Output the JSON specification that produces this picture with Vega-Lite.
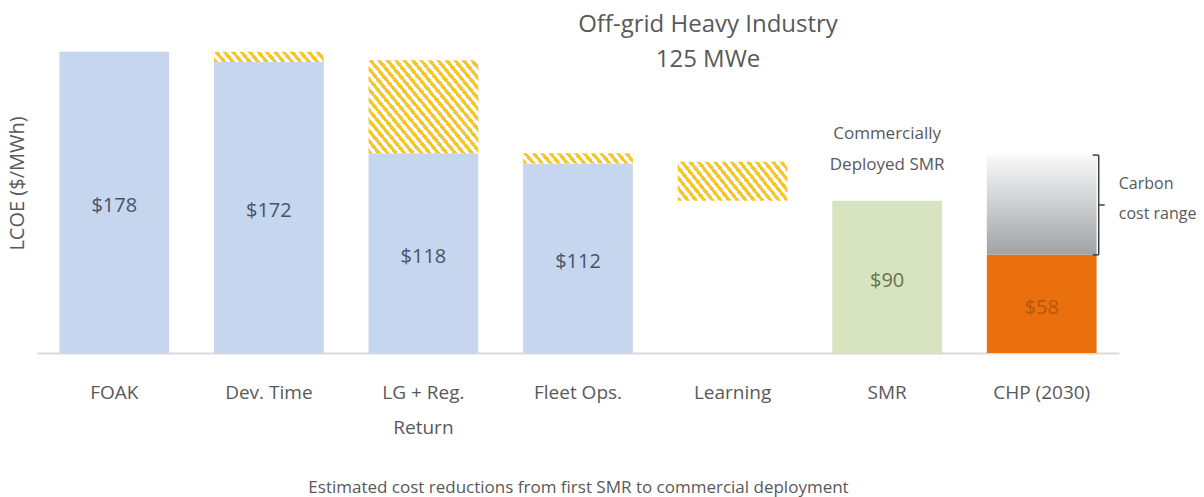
{
  "$schema": "https://vega.github.io/schema/vega-lite/v6.json",
  "width": 1082,
  "height": 313,
  "autosize": "none",
  "padding": {"left": 37, "top": 40, "right": 85, "bottom": 144},
  "background": "#ffffff",
  "config": {
    "font": "Open Sans",
    "view": {"stroke": null},
    "axisY": {
      "labels": false,
      "ticks": false,
      "domain": false,
      "grid": false,
      "titleFontSize": 20,
      "titleFontWeight": "normal",
      "titleColor": "#595959",
      "titleX": -20,
      "titleY": 143,
      "titleAngle": -90,
      "titleAlign": "center",
      "titleBaseline": "middle"
    }
  },
  "title": {
    "text": ["Off-grid Heavy Industry", "125 MWe"],
    "fontSize": 24,
    "fontWeight": "normal",
    "color": "#595959",
    "lineHeight": 35,
    "anchor": "middle",
    "baseline": "bottom",
    "offset": 0,
    "dx": 130,
    "dy": 56
  },
  "datasets": {
    "bars": [
      {"cat": "FOAK", "kind": "FOAK path", "base": 0, "value": 178},
      {"cat": "Dev. Time", "kind": "FOAK path", "base": 0, "value": 172},
      {"cat": "LG + Reg. Return", "kind": "FOAK path", "base": 0, "value": 118},
      {"cat": "Fleet Ops.", "kind": "FOAK path", "base": 0, "value": 112},
      {"cat": "SMR", "kind": "SMR", "base": 0, "value": 90},
      {"cat": "CHP (2030)", "kind": "CHP", "base": 0, "value": 58}
    ],
    "hatch": [
      {"cat": "Dev. Time", "lo": 172, "hi": 178},
      {"cat": "LG + Reg. Return", "lo": 118, "hi": 173},
      {"cat": "Fleet Ops.", "lo": 112, "hi": 118},
      {"cat": "Learning", "lo": 90, "hi": 113}
    ],
    "carbon": [
      {"cat": "CHP (2030)", "lo": 58, "hi": 117}
    ]
  },
  "encoding": {
    "x": {
      "field": "cat",
      "type": "nominal",
      "scale": {
        "domain": ["FOAK", "Dev. Time", "LG + Reg. Return", "Fleet Ops.", "Learning", "SMR", "CHP (2030)"],
        "paddingInner": 0.29,
        "paddingOuter": 0.145
      },
      "axis": {
        "title": "Estimated cost reductions from first SMR to commercial deployment",
        "titleFontSize": 17,
        "titleFontWeight": "normal",
        "titleColor": "#595959",
        "titleY": 134,
        "titleBaseline": "middle",
        "labelFontSize": 19,
        "labelColor": "#595959",
        "labelPadding": 30,
        "labelAngle": 0,
        "labelLineHeight": 35,
        "labelExpr": "datum.value == 'LG + Reg. Return' ? ['LG + Reg.', 'Return'] : datum.value",
        "ticks": false,
        "grid": false,
        "domainColor": "#d9d9d9",
        "domainWidth": 2
      }
    }
  },
  "layer": [
    {
      "data": {"name": "bars"},
      "mark": {"type": "bar"},
      "encoding": {
        "y": {"field": "value", "type": "quantitative", "title": "LCOE ($/MWh)", "scale": {"domain": [0, 185], "nice": false}},
        "color": {
          "field": "kind",
          "type": "nominal",
          "scale": {"domain": ["FOAK path", "SMR", "CHP"], "range": ["#c6d6ee", "#d8e4bf", "#e9700c"]},
          "legend": null
        }
      }
    },
    {
      "data": {"name": "carbon"},
      "mark": {
        "type": "bar",
        "fill": {
          "gradient": "linear",
          "x1": 0, "y1": 0, "x2": 0, "y2": 1,
          "stops": [
            {"offset": 0, "color": "#f9f9f9"},
            {"offset": 1, "color": "#9fa3a6"}
          ]
        }
      },
      "encoding": {
        "y": {"field": "hi", "type": "quantitative", "title": "LCOE ($/MWh)", "scale": {"domain": [0, 185], "nice": false}},
        "y2": {"field": "lo"}
      }
    },
    {
      "data": {"name": "hatch"},
      "transform": [{"filter": "datum.cat == 'Dev. Time' || datum.cat == 'Fleet Ops.'"}],
      "mark": {
        "type": "bar",
        "fill": {
          "gradient": "linear",
          "x1": 0, "y1": 1, "x2": 1.07, "y2": 0.918,
          "stops": [
            {"offset": 0, "color": "#f6c62a"}, {"offset": 0.0357, "color": "#f6c62a"}, {"offset": 0.0357, "color": "#ffffff"}, {"offset": 0.0714, "color": "#ffffff"},
            {"offset": 0.0714, "color": "#f6c62a"}, {"offset": 0.1071, "color": "#f6c62a"}, {"offset": 0.1071, "color": "#ffffff"}, {"offset": 0.1429, "color": "#ffffff"},
            {"offset": 0.1429, "color": "#f6c62a"}, {"offset": 0.1786, "color": "#f6c62a"}, {"offset": 0.1786, "color": "#ffffff"}, {"offset": 0.2143, "color": "#ffffff"},
            {"offset": 0.2143, "color": "#f6c62a"}, {"offset": 0.25, "color": "#f6c62a"}, {"offset": 0.25, "color": "#ffffff"}, {"offset": 0.2857, "color": "#ffffff"},
            {"offset": 0.2857, "color": "#f6c62a"}, {"offset": 0.3214, "color": "#f6c62a"}, {"offset": 0.3214, "color": "#ffffff"}, {"offset": 0.3571, "color": "#ffffff"},
            {"offset": 0.3571, "color": "#f6c62a"}, {"offset": 0.3929, "color": "#f6c62a"}, {"offset": 0.3929, "color": "#ffffff"}, {"offset": 0.4286, "color": "#ffffff"},
            {"offset": 0.4286, "color": "#f6c62a"}, {"offset": 0.4643, "color": "#f6c62a"}, {"offset": 0.4643, "color": "#ffffff"}, {"offset": 0.5, "color": "#ffffff"},
            {"offset": 0.5, "color": "#f6c62a"}, {"offset": 0.5357, "color": "#f6c62a"}, {"offset": 0.5357, "color": "#ffffff"}, {"offset": 0.5714, "color": "#ffffff"},
            {"offset": 0.5714, "color": "#f6c62a"}, {"offset": 0.6071, "color": "#f6c62a"}, {"offset": 0.6071, "color": "#ffffff"}, {"offset": 0.6429, "color": "#ffffff"},
            {"offset": 0.6429, "color": "#f6c62a"}, {"offset": 0.6786, "color": "#f6c62a"}, {"offset": 0.6786, "color": "#ffffff"}, {"offset": 0.7143, "color": "#ffffff"},
            {"offset": 0.7143, "color": "#f6c62a"}, {"offset": 0.75, "color": "#f6c62a"}, {"offset": 0.75, "color": "#ffffff"}, {"offset": 0.7857, "color": "#ffffff"},
            {"offset": 0.7857, "color": "#f6c62a"}, {"offset": 0.8214, "color": "#f6c62a"}, {"offset": 0.8214, "color": "#ffffff"}, {"offset": 0.8571, "color": "#ffffff"},
            {"offset": 0.8571, "color": "#f6c62a"}, {"offset": 0.8929, "color": "#f6c62a"}, {"offset": 0.8929, "color": "#ffffff"}, {"offset": 0.9286, "color": "#ffffff"},
            {"offset": 0.9286, "color": "#f6c62a"}, {"offset": 0.9643, "color": "#f6c62a"}, {"offset": 0.9643, "color": "#ffffff"}, {"offset": 1, "color": "#ffffff"}
          ]
        }
      },
      "encoding": {
        "y": {"field": "hi", "type": "quantitative", "title": "LCOE ($/MWh)", "scale": {"domain": [0, 185], "nice": false}},
        "y2": {"field": "lo"}
      }
    },
    {
      "data": {"name": "hatch"},
      "transform": [{"filter": "datum.cat == 'LG + Reg. Return'"}],
      "mark": {
        "type": "bar",
        "fill": {
          "gradient": "linear",
          "x1": 0, "y1": 1, "x2": 1.143, "y2": 0.206,
          "stops": [
            {"offset": 0, "color": "#f6c62a"}, {"offset": 0.0227, "color": "#f6c62a"}, {"offset": 0.0227, "color": "#ffffff"}, {"offset": 0.0455, "color": "#ffffff"},
            {"offset": 0.0455, "color": "#f6c62a"}, {"offset": 0.0682, "color": "#f6c62a"}, {"offset": 0.0682, "color": "#ffffff"}, {"offset": 0.0909, "color": "#ffffff"},
            {"offset": 0.0909, "color": "#f6c62a"}, {"offset": 0.1136, "color": "#f6c62a"}, {"offset": 0.1136, "color": "#ffffff"}, {"offset": 0.1364, "color": "#ffffff"},
            {"offset": 0.1364, "color": "#f6c62a"}, {"offset": 0.1591, "color": "#f6c62a"}, {"offset": 0.1591, "color": "#ffffff"}, {"offset": 0.1818, "color": "#ffffff"},
            {"offset": 0.1818, "color": "#f6c62a"}, {"offset": 0.2045, "color": "#f6c62a"}, {"offset": 0.2045, "color": "#ffffff"}, {"offset": 0.2273, "color": "#ffffff"},
            {"offset": 0.2273, "color": "#f6c62a"}, {"offset": 0.25, "color": "#f6c62a"}, {"offset": 0.25, "color": "#ffffff"}, {"offset": 0.2727, "color": "#ffffff"},
            {"offset": 0.2727, "color": "#f6c62a"}, {"offset": 0.2955, "color": "#f6c62a"}, {"offset": 0.2955, "color": "#ffffff"}, {"offset": 0.3182, "color": "#ffffff"},
            {"offset": 0.3182, "color": "#f6c62a"}, {"offset": 0.3409, "color": "#f6c62a"}, {"offset": 0.3409, "color": "#ffffff"}, {"offset": 0.3636, "color": "#ffffff"},
            {"offset": 0.3636, "color": "#f6c62a"}, {"offset": 0.3864, "color": "#f6c62a"}, {"offset": 0.3864, "color": "#ffffff"}, {"offset": 0.4091, "color": "#ffffff"},
            {"offset": 0.4091, "color": "#f6c62a"}, {"offset": 0.4318, "color": "#f6c62a"}, {"offset": 0.4318, "color": "#ffffff"}, {"offset": 0.4545, "color": "#ffffff"},
            {"offset": 0.4545, "color": "#f6c62a"}, {"offset": 0.4773, "color": "#f6c62a"}, {"offset": 0.4773, "color": "#ffffff"}, {"offset": 0.5, "color": "#ffffff"},
            {"offset": 0.5, "color": "#f6c62a"}, {"offset": 0.5227, "color": "#f6c62a"}, {"offset": 0.5227, "color": "#ffffff"}, {"offset": 0.5455, "color": "#ffffff"},
            {"offset": 0.5455, "color": "#f6c62a"}, {"offset": 0.5682, "color": "#f6c62a"}, {"offset": 0.5682, "color": "#ffffff"}, {"offset": 0.5909, "color": "#ffffff"},
            {"offset": 0.5909, "color": "#f6c62a"}, {"offset": 0.6136, "color": "#f6c62a"}, {"offset": 0.6136, "color": "#ffffff"}, {"offset": 0.6364, "color": "#ffffff"},
            {"offset": 0.6364, "color": "#f6c62a"}, {"offset": 0.6591, "color": "#f6c62a"}, {"offset": 0.6591, "color": "#ffffff"}, {"offset": 0.6818, "color": "#ffffff"},
            {"offset": 0.6818, "color": "#f6c62a"}, {"offset": 0.7045, "color": "#f6c62a"}, {"offset": 0.7045, "color": "#ffffff"}, {"offset": 0.7273, "color": "#ffffff"},
            {"offset": 0.7273, "color": "#f6c62a"}, {"offset": 0.75, "color": "#f6c62a"}, {"offset": 0.75, "color": "#ffffff"}, {"offset": 0.7727, "color": "#ffffff"},
            {"offset": 0.7727, "color": "#f6c62a"}, {"offset": 0.7955, "color": "#f6c62a"}, {"offset": 0.7955, "color": "#ffffff"}, {"offset": 0.8182, "color": "#ffffff"},
            {"offset": 0.8182, "color": "#f6c62a"}, {"offset": 0.8409, "color": "#f6c62a"}, {"offset": 0.8409, "color": "#ffffff"}, {"offset": 0.8636, "color": "#ffffff"},
            {"offset": 0.8636, "color": "#f6c62a"}, {"offset": 0.8864, "color": "#f6c62a"}, {"offset": 0.8864, "color": "#ffffff"}, {"offset": 0.9091, "color": "#ffffff"},
            {"offset": 0.9091, "color": "#f6c62a"}, {"offset": 0.9318, "color": "#f6c62a"}, {"offset": 0.9318, "color": "#ffffff"}, {"offset": 0.9545, "color": "#ffffff"},
            {"offset": 0.9545, "color": "#f6c62a"}, {"offset": 0.9773, "color": "#f6c62a"}, {"offset": 0.9773, "color": "#ffffff"}, {"offset": 1, "color": "#ffffff"}
          ]
        }
      },
      "encoding": {
        "y": {"field": "hi", "type": "quantitative", "title": "LCOE ($/MWh)", "scale": {"domain": [0, 185], "nice": false}},
        "y2": {"field": "lo"}
      }
    },
    {
      "data": {"name": "hatch"},
      "transform": [{"filter": "datum.cat == 'Learning'"}],
      "mark": {
        "type": "bar",
        "fill": {
          "gradient": "linear",
          "x1": 0, "y1": 1, "x2": 1.188, "y2": 0.665,
          "stops": [
            {"offset": 0, "color": "#f6c62a"}, {"offset": 0.0294, "color": "#f6c62a"}, {"offset": 0.0294, "color": "#ffffff"}, {"offset": 0.0588, "color": "#ffffff"},
            {"offset": 0.0588, "color": "#f6c62a"}, {"offset": 0.0882, "color": "#f6c62a"}, {"offset": 0.0882, "color": "#ffffff"}, {"offset": 0.1176, "color": "#ffffff"},
            {"offset": 0.1176, "color": "#f6c62a"}, {"offset": 0.1471, "color": "#f6c62a"}, {"offset": 0.1471, "color": "#ffffff"}, {"offset": 0.1765, "color": "#ffffff"},
            {"offset": 0.1765, "color": "#f6c62a"}, {"offset": 0.2059, "color": "#f6c62a"}, {"offset": 0.2059, "color": "#ffffff"}, {"offset": 0.2353, "color": "#ffffff"},
            {"offset": 0.2353, "color": "#f6c62a"}, {"offset": 0.2647, "color": "#f6c62a"}, {"offset": 0.2647, "color": "#ffffff"}, {"offset": 0.2941, "color": "#ffffff"},
            {"offset": 0.2941, "color": "#f6c62a"}, {"offset": 0.3235, "color": "#f6c62a"}, {"offset": 0.3235, "color": "#ffffff"}, {"offset": 0.3529, "color": "#ffffff"},
            {"offset": 0.3529, "color": "#f6c62a"}, {"offset": 0.3824, "color": "#f6c62a"}, {"offset": 0.3824, "color": "#ffffff"}, {"offset": 0.4118, "color": "#ffffff"},
            {"offset": 0.4118, "color": "#f6c62a"}, {"offset": 0.4412, "color": "#f6c62a"}, {"offset": 0.4412, "color": "#ffffff"}, {"offset": 0.4706, "color": "#ffffff"},
            {"offset": 0.4706, "color": "#f6c62a"}, {"offset": 0.5, "color": "#f6c62a"}, {"offset": 0.5, "color": "#ffffff"}, {"offset": 0.5294, "color": "#ffffff"},
            {"offset": 0.5294, "color": "#f6c62a"}, {"offset": 0.5588, "color": "#f6c62a"}, {"offset": 0.5588, "color": "#ffffff"}, {"offset": 0.5882, "color": "#ffffff"},
            {"offset": 0.5882, "color": "#f6c62a"}, {"offset": 0.6176, "color": "#f6c62a"}, {"offset": 0.6176, "color": "#ffffff"}, {"offset": 0.6471, "color": "#ffffff"},
            {"offset": 0.6471, "color": "#f6c62a"}, {"offset": 0.6765, "color": "#f6c62a"}, {"offset": 0.6765, "color": "#ffffff"}, {"offset": 0.7059, "color": "#ffffff"},
            {"offset": 0.7059, "color": "#f6c62a"}, {"offset": 0.7353, "color": "#f6c62a"}, {"offset": 0.7353, "color": "#ffffff"}, {"offset": 0.7647, "color": "#ffffff"},
            {"offset": 0.7647, "color": "#f6c62a"}, {"offset": 0.7941, "color": "#f6c62a"}, {"offset": 0.7941, "color": "#ffffff"}, {"offset": 0.8235, "color": "#ffffff"},
            {"offset": 0.8235, "color": "#f6c62a"}, {"offset": 0.8529, "color": "#f6c62a"}, {"offset": 0.8529, "color": "#ffffff"}, {"offset": 0.8824, "color": "#ffffff"},
            {"offset": 0.8824, "color": "#f6c62a"}, {"offset": 0.9118, "color": "#f6c62a"}, {"offset": 0.9118, "color": "#ffffff"}, {"offset": 0.9412, "color": "#ffffff"},
            {"offset": 0.9412, "color": "#f6c62a"}, {"offset": 0.9706, "color": "#f6c62a"}, {"offset": 0.9706, "color": "#ffffff"}, {"offset": 1, "color": "#ffffff"}
          ]
        }
      },
      "encoding": {
        "y": {"field": "hi", "type": "quantitative", "title": "LCOE ($/MWh)", "scale": {"domain": [0, 185], "nice": false}},
        "y2": {"field": "lo"}
      }
    },
    {
      "data": {"name": "bars"},
      "transform": [
        {"fold": ["base", "value"], "as": ["part", "v"]},
        {"aggregate": [{"op": "mean", "field": "v", "as": "mid"}, {"op": "max", "field": "v", "as": "value"}], "groupby": ["cat", "kind"]}
      ],
      "mark": {"type": "text", "fontSize": 20, "baseline": "middle", "align": "center", "dy": 4},
      "encoding": {
        "y": {"field": "mid", "type": "quantitative", "title": "LCOE ($/MWh)", "scale": {"domain": [0, 185], "nice": false}},
        "text": {"field": "value", "type": "quantitative", "format": "$.0f"},
        "fill": {
          "field": "kind",
          "type": "nominal",
          "scale": {"domain": ["FOAK path", "SMR", "CHP"], "range": ["#44546a", "#667650", "#b8560c"]},
          "legend": null
        }
      }
    },
    {
      "data": {"name": "bars"},
      "transform": [{"filter": "datum.cat == 'SMR'"}],
      "mark": {
        "type": "text",
        "text": ["Commercially", "Deployed SMR"],
        "fontSize": 17,
        "lineHeight": 31,
        "baseline": "bottom",
        "align": "center",
        "dy": -58,
        "color": "#595959"
      },
      "encoding": {
        "y": {"field": "value", "type": "quantitative", "title": "LCOE ($/MWh)", "scale": {"domain": [0, 185], "nice": false}}
      }
    },
    {
      "data": {"name": "carbon"},
      "transform": [
        {"fold": ["lo", "hi"], "as": ["end", "v"]},
        {"aggregate": [{"op": "mean", "field": "v", "as": "mid"}], "groupby": ["cat"]}
      ],
      "layer": [
        {
          "mark": {
            "type": "text",
            "text": ["Carbon", "cost range"],
            "fontSize": 16,
            "lineHeight": 30,
            "baseline": "middle",
            "align": "left",
            "xOffset": 77,
            "dy": -21,
            "color": "#595959"
          },
          "encoding": {
            "y": {"field": "mid", "type": "quantitative", "title": "LCOE ($/MWh)", "scale": {"domain": [0, 185], "nice": false}}
          }
        },
        {
          "mark": {"type": "rule", "color": "#404040", "strokeWidth": 1.5, "xOffset": 57, "x2Offset": 63},
          "encoding": {
            "y": {"field": "mid", "type": "quantitative", "title": "LCOE ($/MWh)", "scale": {"domain": [0, 185], "nice": false}},
            "x2": {"field": "cat"}
          }
        }
      ]
    },
    {
      "data": {"name": "carbon"},
      "mark": {"type": "rule", "color": "#404040", "strokeWidth": 1.5, "xOffset": 57},
      "encoding": {
        "y": {"field": "hi", "type": "quantitative", "title": "LCOE ($/MWh)", "scale": {"domain": [0, 185], "nice": false}},
        "y2": {"field": "lo"}
      }
    },
    {
      "data": {"name": "carbon"},
      "mark": {"type": "rule", "color": "#404040", "strokeWidth": 1.5, "xOffset": 51, "x2Offset": 57},
      "encoding": {
        "y": {"field": "hi", "type": "quantitative", "title": "LCOE ($/MWh)", "scale": {"domain": [0, 185], "nice": false}},
        "x2": {"field": "cat"}
      }
    },
    {
      "data": {"name": "carbon"},
      "mark": {"type": "rule", "color": "#404040", "strokeWidth": 1.5, "xOffset": 51, "x2Offset": 57},
      "encoding": {
        "y": {"field": "lo", "type": "quantitative", "title": "LCOE ($/MWh)", "scale": {"domain": [0, 185], "nice": false}},
        "x2": {"field": "cat"}
      }
    }
  ]
}
